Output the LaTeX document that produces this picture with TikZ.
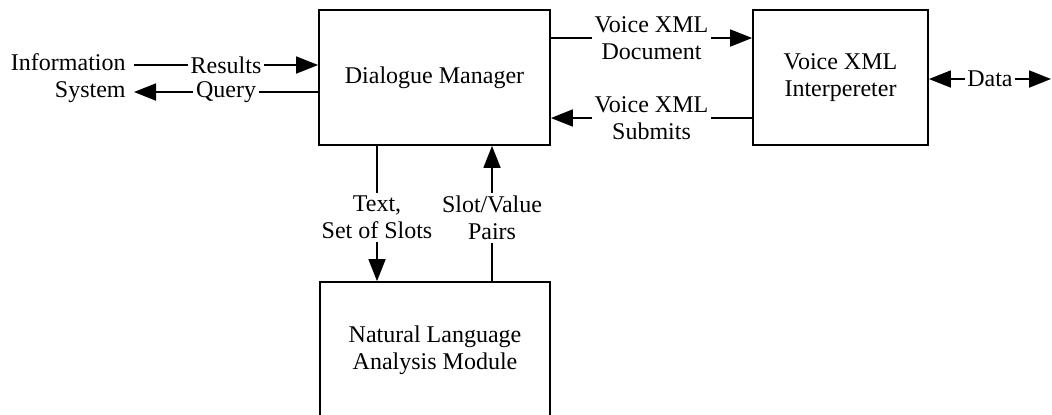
\documentclass[tikz,border=0pt]{standalone}
\usepackage{fontspec}
\setmainfont{Liberation Serif}
\usetikzlibrary{arrows.meta}
\begin{document}
\begin{tikzpicture}[x=0.5pt,y=-0.5pt,
  txt/.style={font=\fontsize{12}{13.5}\selectfont, align=center},
  box/.style={txt, draw, line width=0.9pt, inner sep=0pt},
  lbl/.style={txt, fill=white, inner sep=1.5pt},
  conn/.style={line width=0.9pt},
  tip/.style={-{Triangle[length=11pt,width=8.5pt]}},
  tips/.style={{Triangle[length=11pt,width=8.5pt]}-{Triangle[length=11pt,width=8.5pt]}}]
\clip (0,0) rectangle (1052,414);

% main blocks
\node[box, minimum width=115.5pt, minimum height=67.5pt] (dm) at (434.5,77.5) {Dialogue Manager};
\node[box, minimum width=87.5pt, minimum height=67.5pt] (vxi) at (840.5,77.5) {Voice XML\\Interpereter};
\node[box, minimum width=115pt, minimum height=68pt] (nl) at (435,350) {Natural Language\\Analysis Module};

% external information system
\node[txt, align=right, anchor=east, inner sep=0pt] (is) at (126,78.5) {Information\\System};
\coordinate (isr) at (134,65);
\coordinate (isq) at (134,92);
\draw[conn,tip] (isr) -- node[lbl]{Results} (isr -| dm.west);
\draw[conn,tip] (isq -| dm.west) -- node[lbl]{Query} (isq);

% manager <-> interpreter
\draw[conn,tip] (dm.east |- 0,38) -- node[lbl]{Voice XML\\Document} (vxi.west |- 0,38);
\draw[conn,tip] (vxi.west |- 0,118) -- node[lbl]{Voice XML\\Submits} (dm.east |- 0,118);

% data exchange
\coordinate (dataend) at (1051,79);
\draw[conn,tips] (vxi.east |- dataend) -- node[lbl, inner sep=1pt]{Data} (dataend);

% manager <-> language analysis
\draw[conn,tip] (377,0 |- dm.south) -- node[lbl, pos=0.53]{Text,\\Set of Slots} (377,0 |- nl.north);
\draw[conn,tip] (492,0 |- nl.north) -- node[lbl, pos=0.47]{Slot/Value\\Pairs} (492,0 |- dm.south);
\end{tikzpicture}
\end{document}
